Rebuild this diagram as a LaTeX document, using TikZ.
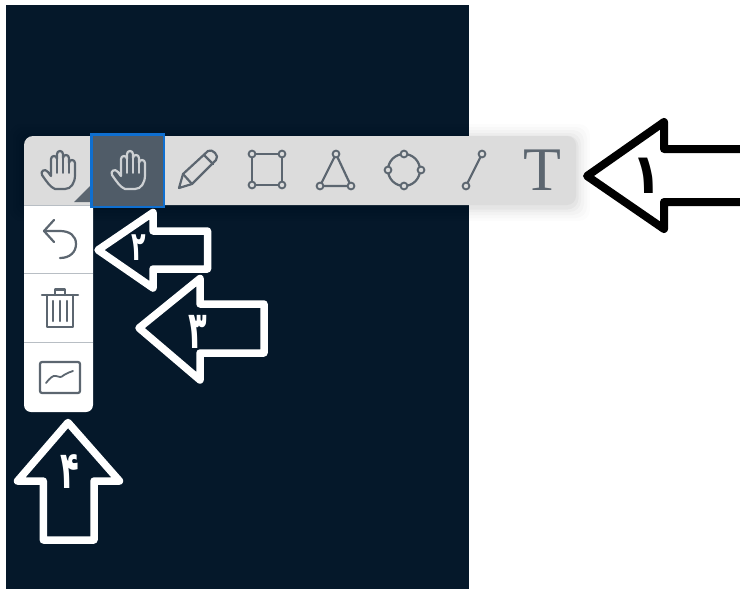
\documentclass[tikz,border=0pt]{standalone}
\usepackage{graphicx}
\usepackage{fontspec}
\setmainfont{Liberation Serif}
\newfontfamily\digitfont[Script=Arabic]{DejaVu Sans Bold}
\TeXXeTstate=1
\definecolor{paneldark}{HTML}{05182A}
\definecolor{barfill}{HTML}{DCDCDC}
\definecolor{activefill}{HTML}{505C68}
\definecolor{activeline}{HTML}{0F6FD0}
\definecolor{iconline}{HTML}{5C6670}
\definecolor{iconlight}{HTML}{CDD0D3}
\definecolor{rulegray}{HTML}{B8BEC4}
\tikzset{
  x=1pt,y=-1pt,
  icon/.style={draw=iconline,line width=2.2pt,line join=round,line cap=round},
  vertex/.style={draw=iconline,line width=1.9pt,fill=barfill},
  whitearrow/.style={draw=white,line width=7.5pt,line join=round},
  blackarrow/.style={draw=black,line width=8pt,line join=round},
  digit/.style={inner sep=0pt,font=\digitfont},
}
\newcommand{\handicon}[3]{%
  \begin{scope}[shift={(#1,#2)}]
    \draw[line width=2.2pt,line join=round,line cap=round,draw=#3]
      (-5,19) .. controls (-10,17) and (-13,12) .. (-18,5)
      .. controls (-20,1) and (-15,-2) .. (-12,2) -- (-9,6)
      -- (-9,-11) .. controls (-9,-15) and (-3,-15) .. (-3,-11)
      -- (-3,-16) .. controls (-3,-20) and (3,-20) .. (3,-16)
      -- (3,-12) .. controls (3,-16) and (9,-16) .. (9,-12)
      -- (9,-7) .. controls (9,-11) and (15,-11) .. (15,-7)
      -- (15,5) .. controls (15,13) and (11,19) .. (5,19) -- cycle;
    \draw[line width=1.9pt,line cap=round,draw=#3]
      (-3,-11) -- (-3,3) (3,-12) -- (3,3) (9,-7) -- (9,3);
  \end{scope}}
\begin{document}
\begin{tikzpicture}
\useasboundingbox (0,0) rectangle (740,589);
\fill[white] (0,0) rectangle (740,589);
\fill[paneldark] (6,5) rectangle (469,589);
% toolbar shadow
\foreach \g/\op in {14/0.012,11/0.015,8/0.02,5/0.025,2.5/0.03}{
  \fill[black,opacity=\op,rounded corners=11pt] (24-\g,136-\g+2) rectangle (576+\g,205+\g+2);
}
% toolbar and side panel
\fill[barfill,rounded corners=9pt] (24,136) rectangle (576,205);
\fill[white,rounded corners=7pt] (24,200) rectangle (93,412);
\fill[white] (24,206) rectangle (93,260);
\fill[barfill] (24,190) rectangle (93,205);
\draw[rulegray,line width=1.3pt] (24,205.5) -- (93,205.5);
\draw[rulegray,line width=1.3pt] (24,273.5) -- (93,273.5);
\draw[rulegray,line width=1.3pt] (24,342.5) -- (93,342.5);
\fill[iconline] (90,186) -- (90,202) -- (74,202) -- cycle;
% active button
\draw[draw=activeline,fill=activefill,line width=2.6pt] (91.5,134.5) rectangle (164,207);
\handicon{60}{170}{iconline}
\handicon{130}{170}{iconlight}
% pencil
\draw[icon] (179,188) -- (183,174) -- (208,151) .. controls (212,148) and (220,156) .. (216,160) -- (192,184) -- cycle;
\draw[icon] (183,174) -- (192,184) (204,155) -- (213,164);
% rectangle tool
\draw[icon] (252,154) rectangle (282,185);
\foreach \px/\py in {252/154,282/154,252/185,282/185}{\filldraw[vertex] (\px,\py) circle (3.4);}
% triangle tool
\draw[icon] (336,154) -- (320,186) -- (351,186) -- cycle;
\foreach \px/\py in {336/154,320/186,351/186}{\filldraw[vertex] (\px,\py) circle (3.4);}
% circle tool
\draw[icon] (404,170) circle (16);
\foreach \px/\py in {404/154,388/170,421/170,404/186}{\filldraw[vertex] (\px,\py) circle (3.4);}
% line tool
\draw[icon] (466,186) -- (482,154);
\foreach \px/\py in {466/186,482/154}{\filldraw[vertex] (\px,\py) circle (3.4);}
% text tool
\node[text=iconline,font=\fontsize{62}{62}\selectfont,inner sep=0pt] (texttool) at (542.5,170.5) {T};
% undo
\draw[icon] (54,220) -- (44,231) -- (54,242);
\draw[icon] (44,231) -- (60,231) .. controls (70,231) and (76,236) .. (76,244) .. controls (76,252) and (70,258) .. (60,258);
% trash
\draw[icon] (42,295) -- (78,295);
\draw[icon] (55,295) -- (55,289.5) -- (65,289.5) -- (65,295);
\draw[icon] (47,295) -- (47,327) -- (73,327) -- (73,295);
\draw[icon] (53,301) -- (53,321) (60,301) -- (60,321) (67,301) -- (67,321);
% chart
\draw[icon,rounded corners=2pt] (40,362) rectangle (80,393);
\draw[icon,line width=1.8pt] (46,383) .. controls (50,378) and (53,375) .. (56,376) .. controls (59,377) and (61,378) .. (64,375) .. controls (67,373) and (70,372) .. (73,371);
% arrows
\draw[blackarrow] (587,176) -- (664,122) -- (664,149) -- (745,149) -- (745,202) -- (664,202) -- (664,229) -- cycle;
\node[digit,text=black] (one) at (647,176) {\scalebox{1.4}[1.55]{\fontsize{36}{36}\selectfont\beginR ۱\endR}};
\draw[whitearrow] (98,250) -- (153,212.5) -- (153,231) -- (207.5,231) -- (207.5,269) -- (153,269) -- (153,288) -- cycle;
\node[digit,text=white] (two) at (139,248) {\scalebox{0.85}[1.45]{\fontsize{28}{28}\selectfont\beginR ۲\endR}};
\draw[whitearrow] (139,328) -- (200,278.5) -- (200,304) -- (264,304) -- (264,353) -- (200,353) -- (200,380) -- cycle;
\node[digit,text=white] (three) at (198,332) {\scalebox{0.85}[1.45]{\fontsize{36}{36}\selectfont\beginR ۳\endR}};
\draw[whitearrow] (68,422.5) -- (119.5,481) -- (94,481) -- (94,540) -- (43.3,540) -- (43.3,481) -- (17.5,481) -- cycle;
\node[digit,text=white] (four) at (70,472) {\scalebox{0.85}[1.45]{\fontsize{36}{36}\selectfont\beginR ۴\endR}};
\end{tikzpicture}
\end{document}
